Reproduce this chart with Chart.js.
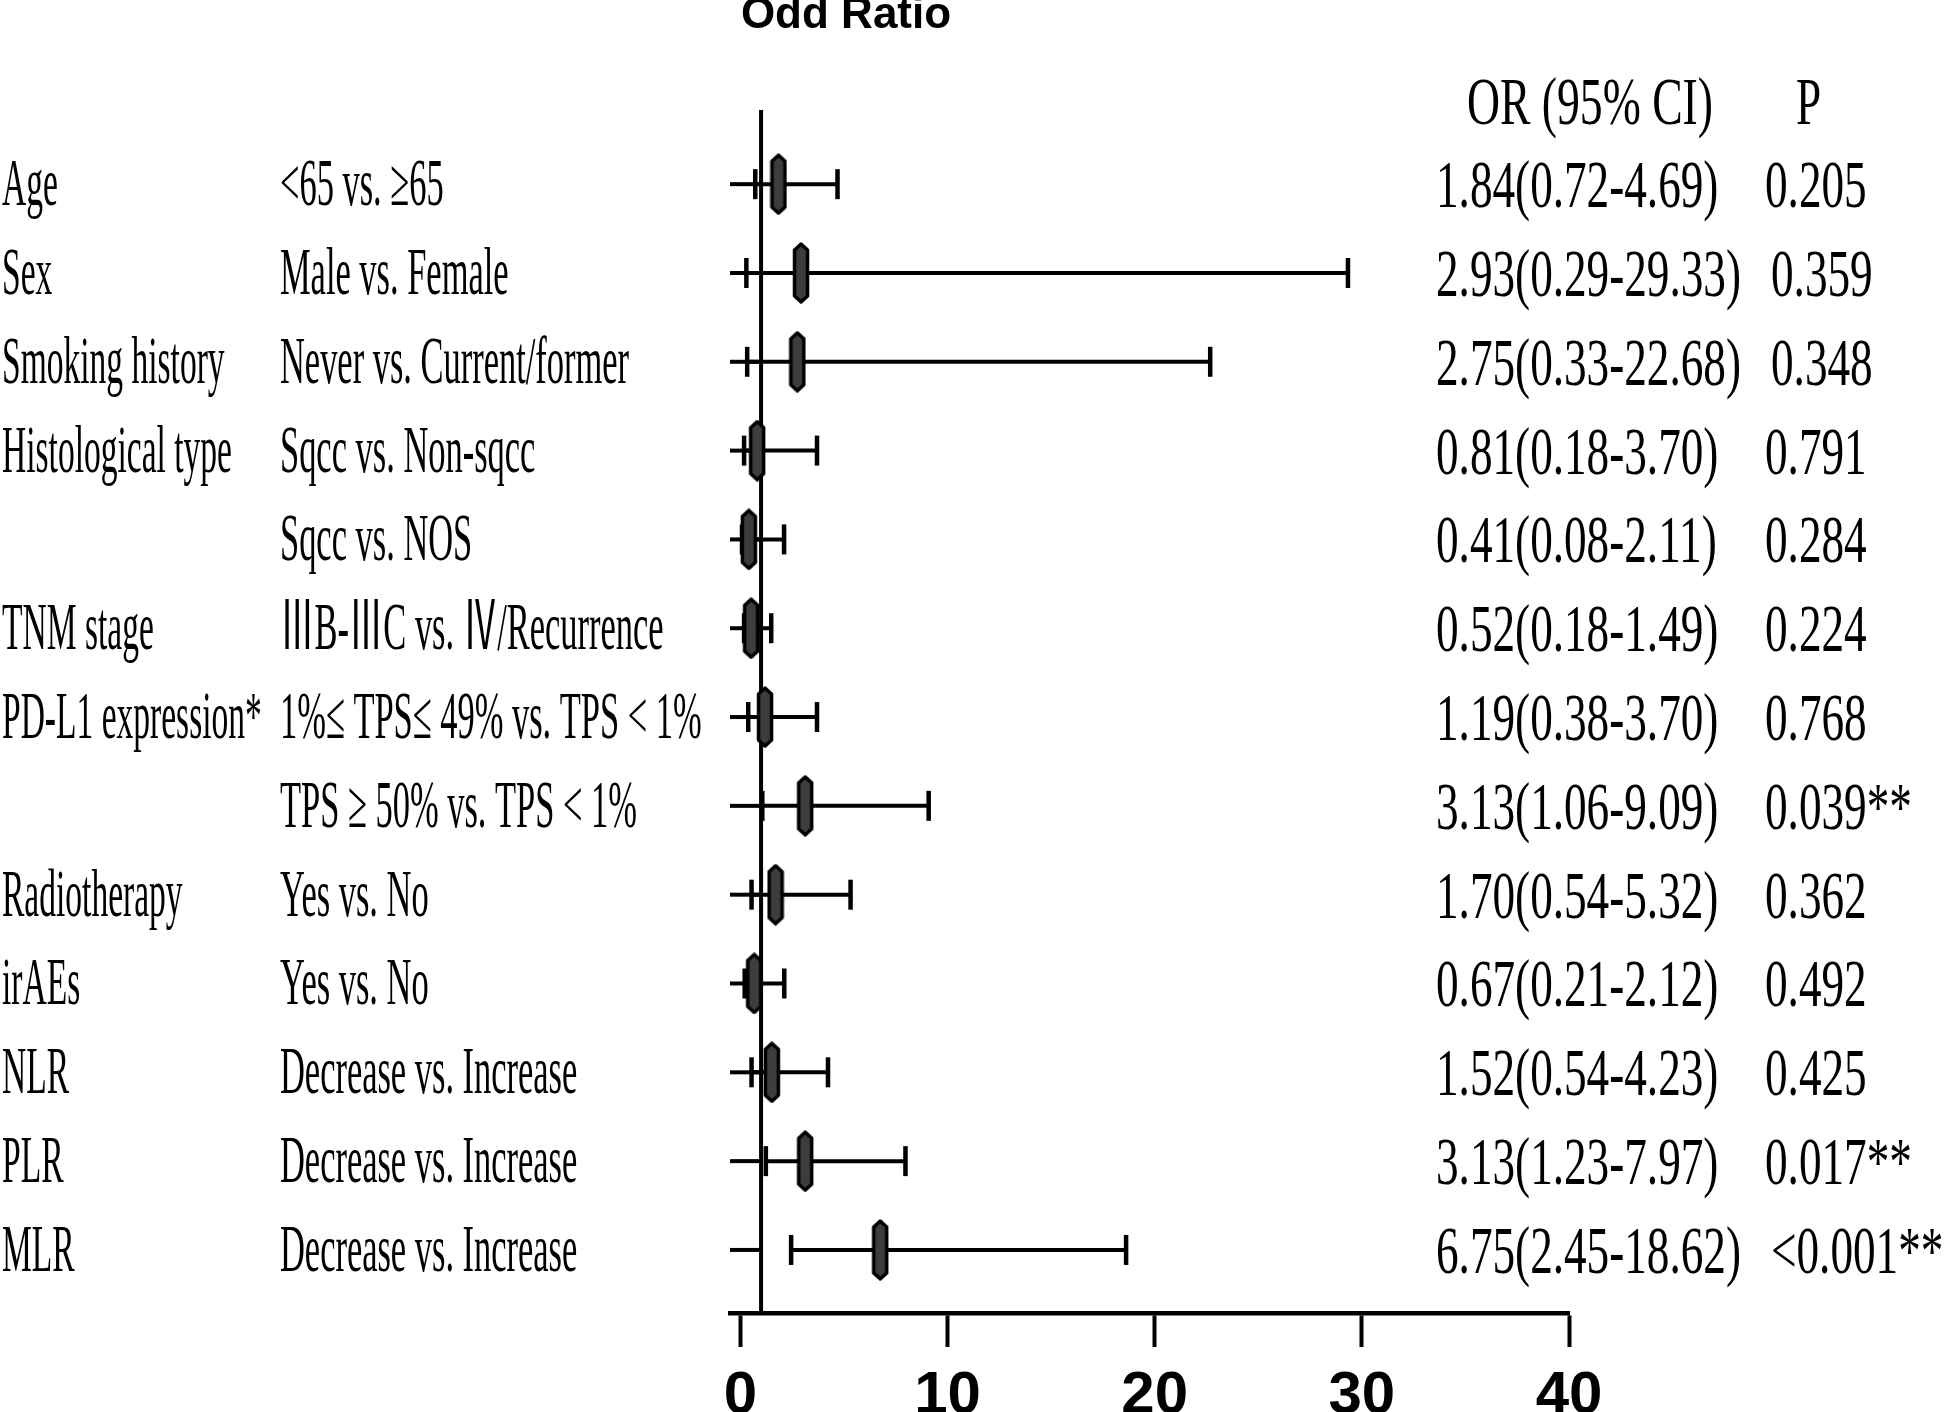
<!DOCTYPE html>
<html>
<head>
<meta charset="utf-8">
<title>Odd Ratio</title>
<script src="https://cdn.jsdelivr.net/npm/chart.js@4.4.1/dist/chart.umd.min.js"></script>
<style>
  html, body { margin: 0; padding: 0; background: #fff; overflow: hidden; }
  canvas { display: block; }
</style>
</head>
<body>
<canvas id="forest" width="1949" height="1412"></canvas>
<script>
// data
const variables = ['Age', 'Sex', 'Smoking history', 'Histological type', '', 'TNM stage',
  'PD-L1 expression*', '', 'Radiotherapy', 'irAEs', 'NLR', 'PLR', 'MLR'];
const comparisons = ['<65 vs. \u226565', 'Male vs. Female', 'Never vs. Current/former',
  'Sqcc vs. Non-sqcc', 'Sqcc vs. NOS', '\u2162B-\u2162C vs. \u2163/Recurrence',
  '1%\u2264 TPS\u2264 49% vs. TPS < 1%', 'TPS \u2265 50% vs. TPS < 1%', 'Yes vs. No', 'Yes vs. No',
  'Decrease vs. Increase', 'Decrease vs. Increase', 'Decrease vs. Increase'];
const oddsRatio = [1.84, 2.93, 2.75, 0.81, 0.41, 0.52, 1.19, 3.13, 1.70, 0.67, 1.52, 3.13, 6.75];
const ciLower = [0.72, 0.29, 0.33, 0.18, 0.08, 0.18, 0.38, 1.06, 0.54, 0.21, 0.54, 1.23, 2.45];
const ciUpper = [4.69, 29.33, 22.68, 3.70, 2.11, 1.49, 3.70, 9.09, 5.32, 2.12, 4.23, 7.97, 18.62];
const pValues = ['0.205', '0.359', '0.348', '0.791', '0.284', '0.224', '0.768', '0.039**',
  '0.362', '0.492', '0.425', '0.017**', '<0.001**'];
const xTicks = [0, 10, 20, 30, 40];
const refValue = 1;

const stubStart = -0.5;
const yMin = -0.835, yMax = 12.71;

// elongated pointed box used for the OR estimate
function makeMarker() {
  const w = 18, h = 62;
  const c = document.createElement('canvas');
  c.width = w; c.height = h;
  const g = c.getContext('2d');
  g.beginPath();
  g.moveTo(w / 2, 2);
  g.lineTo(w - 2.5, 8);
  g.lineTo(w - 2.5, h - 8);
  g.lineTo(w / 2, h - 2);
  g.lineTo(2.5, h - 8);
  g.lineTo(2.5, 8);
  g.closePath();
  g.fillStyle = '#3d3d3d';
  g.fill();
  g.lineWidth = 3.5;
  g.lineJoin = 'round';
  g.strokeStyle = '#000';
  g.stroke();
  return c;
}

const datasets = [];
// OR markers on top
datasets.push({
  type: 'scatter',
  data: oddsRatio.map((v, i) => ({ x: v, y: i })),
  pointStyle: makeMarker(),
  pointRadius: 10,
  showLine: false
});
// confidence intervals with caps
ciLower.forEach((lo, i) => {
  datasets.push({
    type: 'scatter',
    data: [{ x: lo, y: i }, { x: ciUpper[i], y: i }],
    showLine: true,
    borderColor: '#000',
    borderWidth: 4,
    pointStyle: 'line',
    rotation: 90,
    pointRadius: 15,
    pointBorderWidth: 4.5,
    pointBorderColor: '#000'
  });
  // short lead-in line up to the reference line
  datasets.push({
    type: 'scatter',
    data: [{ x: stubStart, y: i }, { x: refValue, y: i }],
    showLine: true,
    borderColor: '#000',
    borderWidth: 4,
    pointRadius: 0
  });
});
// vertical reference line at OR = 1
datasets.push({
  type: 'scatter',
  data: [{ x: refValue, y: yMin }, { x: refValue, y: yMax }],
  showLine: true,
  borderColor: '#000',
  borderWidth: 4,
  pointRadius: 0,
  clip: false
});

const orText = i => oddsRatio[i].toFixed(2) + '(' + ciLower[i].toFixed(2) + '-' + ciUpper[i].toFixed(2) + ')';

const textPlugin = {
  id: 'forestText',
  afterDraw(chart) {
    const ctx = chart.ctx;
    const ys = chart.scales.y;
    ctx.save();
    ctx.fillStyle = '#000';
    ctx.textBaseline = 'alphabetic';

    ctx.font = 'bold 44px "Liberation Sans", Arial, sans-serif';
    ctx.textAlign = 'center';
    ctx.fillText('Odd Ratio', 846, 28);

    ctx.textAlign = 'left';
    ctx.font = '68px "Liberation Serif", "Times New Roman", "Noto Sans CJK SC", serif';
    const fit = (s, w) => w / ctx.measureText(s).width;
    const sxName = fit('Histological type', 230);
    const sxCmp = fit('Never vs. Current/former', 349);
    const sxNum = fit('2.93(0.29-29.33)', 305);
    const put = (s, x, y, sx) => {
      ctx.save();
      ctx.translate(x, y);
      ctx.scale(sx, 1);
      ctx.fillText(s, 0, 0);
      ctx.restore();
    };

    put('OR (95% CI)', 1467, 124, fit('OR (95% CI)', 246));
    put('P', 1796, 124, sxNum);

    variables.forEach((v, i) => {
      const y = ys.getPixelForValue(i) + 21;
      put(v, 2, y, sxName);
      put(comparisons[i], 280, y, sxCmp);
      const orStr = orText(i);
      put(orStr, 1436, y + 2, sxNum);
      const orEnd = 1436 + ctx.measureText(orStr).width * sxNum;
      put(pValues[i], Math.max(1765, orEnd + 30), y + 2, sxNum);
    });
    ctx.restore();
  }
};

new Chart(document.getElementById('forest'), {
  type: 'scatter',
  data: { datasets: datasets },
  options: {
    responsive: false,
    animation: false,
    layout: { padding: { left: 730, right: 380, top: 110, bottom: 0 } },
    plugins: {
      legend: { display: false },
      tooltip: { enabled: false }
    },
    scales: {
      x: {
        type: 'linear',
        position: 'bottom',
        min: stubStart,
        max: 40,
        afterBuildTicks: s => { s.ticks = xTicks.map(v => ({ value: v })); },
        afterFit: s => { s.height = 99; },
        grid: {
          display: true,
          drawOnChartArea: false,
          drawTicks: true,
          tickLength: 34,
          tickWidth: 4,
          tickColor: '#000'
        },
        border: { display: true, color: '#000', width: 4.5 },
        ticks: {
          autoSkip: false,
          maxRotation: 0,
          padding: 19,
          color: '#000',
          font: { family: '"Liberation Sans", Arial, sans-serif', weight: 'bold', size: 60, lineHeight: 1 }
        }
      },
      y: {
        type: 'linear',
        display: false,
        reverse: true,
        min: yMin,
        max: yMax
      }
    }
  },
  plugins: [textPlugin]
});
</script>
</body>
</html>
